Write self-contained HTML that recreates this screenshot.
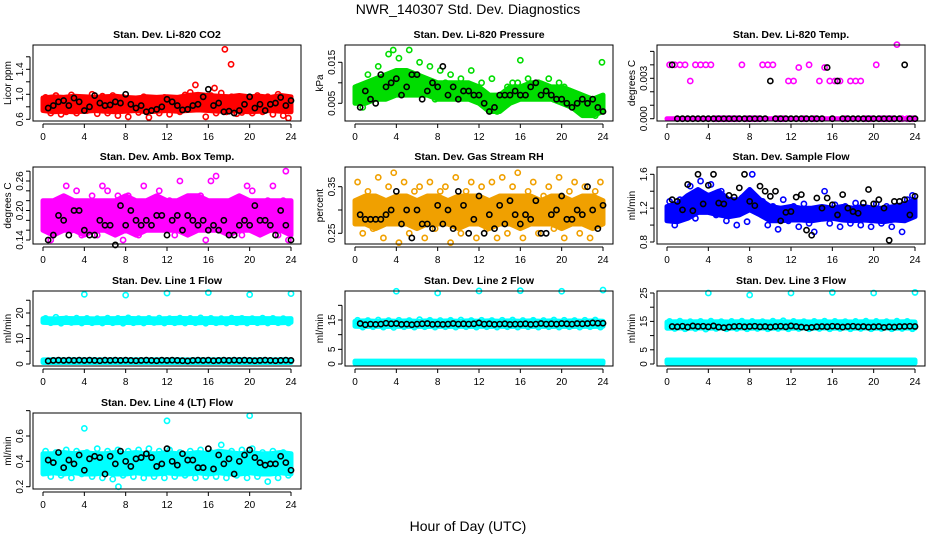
<!DOCTYPE html>
<html><head><meta charset="utf-8">
<style>
html,body{margin:0;padding:0;background:#fff;}
svg{display:block;font-family:"Liberation Sans",sans-serif;}
</style></head>
<body>
<svg id="chart" width="936" height="540" viewBox="0 0 936 540" xmlns="http://www.w3.org/2000/svg">
<rect width="936" height="540" fill="#fff"/>
<text x="468" y="14" text-anchor="middle" font-size="14">NWR_140307  Std. Dev. Diagnostics</text>
<text x="468" y="531" text-anchor="middle" font-size="14">Hour of Day (UTC)</text>
<g id="panels"></g>
</svg>
<script>
// shared hour categories
const bandHours=[0,1,2,3,4,5,6,7,8,9,10,11,12,13,14,15,16,17,18,19,20,21,22,23,24];
const hoursA=[0.25,0.75,1.25,1.75,2.25,2.75,3.25,3.75,4.25,4.75,5.25,5.75,6.25,6.75,7.25,7.75,8.25,8.75,9.25,9.75,10.25,10.75,11.25,11.75,12.25,12.75,13.25,13.75,14.25,14.75,15.25,15.75,16.25,16.75,17.25,17.75,18.25,18.75,19.25,19.75,20.25,20.75,21.25,21.75,22.25,22.75,23.25,23.75];
const hoursB=[0.5,1,1.5,2,2.5,3,3.5,4,4.5,5,5.5,6,6.5,7,7.5,8,8.5,9,9.5,10,10.5,11,11.5,12,12.5,13,13.5,14,14.5,15,15.5,16,16.5,17,17.5,18,18.5,19,19.5,20,20.5,21,21.5,22,22.5,23,23.5,24];
const xTicks=[0,4,8,12,16,20,24];

// P1 CO2
const p1Low=[0.74,0.72,0.73,0.72,0.73,0.74,0.73,0.72,0.73,0.74,0.72,0.73,0.74,0.73,0.74,0.75,0.74,0.73,0.74,0.73,0.72,0.73,0.74,0.73,0.72];
const p1High=[0.94,0.96,0.95,0.97,0.96,0.95,0.96,0.97,0.95,0.94,0.96,0.95,0.96,0.95,0.98,1.0,0.98,0.97,0.96,0.98,0.96,0.97,0.95,0.98,0.96];
const p1Pts=[0.95,0.70,0.98,0.68,0.72,0.99,0.70,0.93,
0.74,1.0,0.69,0.97,0.70,0.98,0.66,0.95,
0.64,0.92,0.71,0.96,0.63,0.90,0.70,0.95,
0.68,0.93,0.72,0.99,1.03,1.15,0.95,0.64,
0.98,0.70,1.02,0.72,0.96,0.69,0.71,0.94,
0.70,0.98,0.72,0.96,0.68,1.0,0.66,0.62];
const p1Blk=[0.78,0.82,0.88,0.90,0.82,0.94,0.88,0.74,
0.80,0.98,0.86,0.82,0.83,0.88,0.86,1.0,
0.84,0.78,0.82,0.72,0.74,0.76,0.80,0.92,
0.88,0.82,0.75,0.76,0.82,0.84,0.96,1.08,
0.82,0.86,0.72,0.73,0.70,0.74,0.84,0.96,
0.78,0.84,0.74,0.84,0.86,0.95,0.82,0.90];
const p1OutX=[17.6,18.2,16.6];
const p1OutY=[1.72,1.48,1.1];

// P2 Pressure
const p2Low=[0.005,0.005,0.006,0.006,0.007,0.007,0.007,0.007,0.006,0.006,0.006,0.006,0.005,0.003,0.003,0.005,0.006,0.006,0.006,0.006,0.005,0.004,0.002,0.002,0.003];
const p2High=[0.009,0.010,0.011,0.012,0.013,0.013,0.012,0.011,0.010,0.010,0.010,0.010,0.009,0.007,0.007,0.009,0.009,0.010,0.010,0.009,0.009,0.008,0.007,0.006,0.007];
const p2Pts=[0.009,0.004,0.012,0.007,0.014,0.010,0.017,0.009,
0.016,0.012,0.018,0.011,0.015,0.008,0.014,0.006,
0.013,0.010,0.012,0.007,0.011,0.009,0.013,0.006,
0.010,0.005,0.011,0.003,0.004,0.009,0.010,0.010,
0.009,0.011,0.007,0.010,0.008,0.011,0.006,0.010,
0.009,0.008,0.004,0.007,0.003,0.006,0.002,0.005];
const p2Blk=[0.004,0.008,0.006,0.005,0.012,0.009,0.010,0.011,
0.007,0.009,0.012,0.012,0.006,0.008,0.010,0.009,
0.014,0.007,0.009,0.006,0.008,0.008,0.007,0.007,
0.005,0.003,0.004,0.007,0.007,0.007,0.008,0.007,
0.007,0.009,0.010,0.007,0.008,0.007,0.006,0.006,
0.005,0.004,0.005,0.006,0.005,0.006,0.004,0.003];
const p2OutX=[16,23.9,3.7];
const p2OutY=[0.0155,0.0150,0.018];

// P3 Li-820 Temp
const p3Low=[0,0,0,0,0,0,0,0,0,0,0,0,0,0,0,0,0,0,0,0,0,0,0,0,0];
const p3High=[0,0,0,0,0,0,0,0,0,0,0,0,0,0,0,0,0,0,0,0,0,0,0,0,0];
const p3Pts=[0.004,0.004,0.004,0.004,0.0028,0.004,0.004,0.004,
0.004,0,0,0,0,0,0.004,0,
0,0,0.004,0.004,0.004,0,0,0.0028,
0.0028,0.0038,0,0.004,0,0.0028,0.0038,0.0028,
0.0028,0.0028,0,0.0028,0.0028,0.0028,0,0,
0.004,0,0,0,0.0055,0,0,0];
const p3Blk=[0.004,0,0,0,0,0,0,0,
0,0,0,0,0,0,0,0,
0,0,0,0.0028,0,0,0,0,
0,0,0,0,0,0,0.0038,0,
0.0028,0,0,0,0,0,0,0,
0,0,0,0,0,0.004,0,0];
const p3OutX=[];
const p3OutY=[];

// P4 Amb box temp
const p4Low=[0.16,0.15,0.16,0.16,0.15,0.16,0.16,0.15,0.16,0.15,0.16,0.16,0.16,0.16,0.15,0.16,0.16,0.16,0.15,0.16,0.16,0.15,0.16,0.16,0.15];
const p4High=[0.22,0.22,0.23,0.22,0.22,0.22,0.22,0.22,0.23,0.22,0.22,0.23,0.22,0.22,0.23,0.23,0.22,0.22,0.22,0.23,0.22,0.22,0.22,0.22,0.22];
const p4Pts=[0.17,0.14,0.21,0.18,0.25,0.16,0.24,0.15,
0.21,0.23,0.15,0.25,0.24,0.17,0.23,0.14,
0.23,0.22,0.15,0.25,0.17,0.21,0.24,0.17,
0.22,0.15,0.26,0.16,0.21,0.18,0.23,0.14,
0.26,0.27,0.16,0.21,0.18,0.22,0.15,0.25,
0.24,0.16,0.20,0.22,0.25,0.15,0.22,0.14];
const p4Blk=[0.14,0.15,0.19,0.18,0.15,0.20,0.20,0.16,
0.15,0.15,0.18,0.17,0.17,0.13,0.21,0.17,
0.20,0.18,0.17,0.18,0.17,0.19,0.19,0.15,
0.18,0.19,0.16,0.19,0.18,0.17,0.18,0.16,
0.17,0.16,0.18,0.15,0.15,0.17,0.18,0.17,
0.21,0.18,0.18,0.17,0.15,0.20,0.17,0.14];
const p4OutX=[23.5];
const p4OutY=[0.28];

// P5 Gas stream RH
const p5Low=[0.27,0.27,0.26,0.27,0.27,0.27,0.26,0.27,0.27,0.27,0.26,0.27,0.27,0.26,0.27,0.27,0.26,0.27,0.27,0.27,0.26,0.27,0.27,0.26,0.27];
const p5High=[0.32,0.33,0.33,0.32,0.33,0.33,0.32,0.33,0.33,0.32,0.33,0.33,0.33,0.32,0.33,0.33,0.33,0.33,0.32,0.33,0.33,0.32,0.33,0.33,0.32];
const p5Pts=[0.36,0.25,0.34,0.26,0.37,0.24,0.35,0.38,
0.23,0.36,0.25,0.34,0.35,0.24,0.36,0.26,
0.34,0.35,0.23,0.37,0.25,0.34,0.36,0.24,
0.35,0.26,0.36,0.24,0.37,0.25,0.35,0.38,
0.24,0.34,0.36,0.25,0.33,0.35,0.26,0.37,
0.24,0.34,0.36,0.25,0.35,0.24,0.34,0.36];
const p5Blk=[0.29,0.28,0.28,0.28,0.28,0.29,0.30,0.34,
0.27,0.30,0.24,0.30,0.27,0.27,0.26,0.31,
0.27,0.30,0.26,0.34,0.31,0.25,0.28,0.33,
0.25,0.29,0.26,0.31,0.27,0.32,0.29,0.27,
0.29,0.28,0.32,0.25,0.25,0.29,0.30,0.33,
0.28,0.28,0.30,0.29,0.35,0.30,0.26,0.31];
const p5OutX=[];
const p5OutY=[];

// P6 Sample flow
const p6Low=[1.05,1.04,1.08,1.15,1.15,1.12,1.10,1.12,1.18,1.12,1.05,1.05,1.06,1.06,1.05,1.07,1.08,1.06,1.05,1.06,1.05,1.04,1.06,1.05,1.10];
const p6High=[1.22,1.25,1.35,1.42,1.35,1.40,1.30,1.30,1.42,1.30,1.22,1.20,1.22,1.20,1.20,1.22,1.20,1.22,1.20,1.22,1.20,1.20,1.22,1.25,1.30];
const p6Pts=[1.28,1.00,1.30,1.12,1.46,1.08,1.52,1.18,
1.48,1.12,1.40,1.05,1.26,1.00,1.32,1.04,
1.60,1.15,1.28,1.00,1.22,0.95,1.30,1.05,
1.22,0.98,1.25,1.02,0.92,1.18,1.40,1.02,
1.24,0.98,1.22,1.02,1.26,1.00,1.20,0.98,
1.25,1.02,1.22,0.98,1.22,0.92,1.30,1.35];
const p6Blk=[1.30,1.28,1.18,1.48,1.17,1.60,1.25,1.47,
1.60,1.26,1.25,1.35,1.33,1.44,1.60,1.28,
1.23,1.46,1.40,1.34,1.40,1.05,1.15,1.16,
1.33,1.36,0.94,0.88,1.32,1.20,1.32,1.24,
1.12,1.36,1.20,1.16,1.14,1.26,1.42,1.25,
1.30,1.20,0.82,1.28,1.28,1.30,1.12,1.34];
const p6OutX=[];
const p6OutY=[];

// P7 Line 1 flow (two bands)
const p7Low=[16.3,16.2,16.3,16.2,16.3,16.2,16.3,16.2,16.3,16.2,16.3,16.2,16.3,16.2,16.3,16.2,16.3,16.2,16.3,16.2,16.3,16.2,16.3,16.2,16.3];
const p7High=[17.8,17.7,17.9,17.8,17.8,17.7,17.8,17.8,17.9,17.8,17.8,17.7,17.8,17.9,17.8,17.8,17.8,17.7,17.8,17.9,17.8,17.8,17.8,17.7,17.8];
const p7Low2=[0.6,0.6,0.6,0.6,0.6,0.6,0.6,0.6,0.6,0.6,0.6,0.6,0.6,0.6,0.6,0.6,0.6,0.6,0.6,0.6,0.6,0.6,0.6,0.6,0.6];
const p7High2=[1.6,1.7,1.6,1.7,1.6,1.7,1.6,1.7,1.6,1.7,1.6,1.7,1.6,1.7,1.6,1.7,1.6,1.7,1.6,1.7,1.6,1.7,1.6,1.7,1.6];
const p7Pts=[17.9,16.2,18.3,16.0,17.8,16.3,18.0,16.1,
17.9,16.2,17.8,16.1,18.0,16.2,17.9,16.0,
18.1,16.2,17.8,16.1,17.9,16.3,18.0,16.1,
17.8,16.2,18.0,16.1,17.9,16.2,18.1,16.0,
17.9,16.2,17.8,16.1,18.0,16.2,17.9,16.1,
17.8,16.2,18.0,16.1,17.9,16.2,17.8,16.1];
const p7Blk=[1.2,1.4,1.5,1.4,1.5,1.4,1.5,1.4,
1.5,1.4,1.3,1.5,1.4,1.5,1.4,1.5,
1.4,1.3,1.4,1.5,1.4,1.3,1.5,1.4,
1.5,1.4,1.3,1.2,1.4,1.5,1.4,1.5,
1.3,1.4,1.5,1.4,1.5,1.4,1.5,1.4,
1.3,1.4,1.5,1.4,1.3,1.4,1.5,1.4];
const p7OutX=[4,8,12,16,20,24];
const p7OutY=[27.3,27,27.8,28,27.2,27.6];

// P8 Line 2 flow
const p8Low=[12.9,12.8,12.9,12.8,12.9,12.8,12.9,12.8,12.9,12.8,12.9,12.8,12.9,12.8,12.9,12.8,12.9,12.8,12.9,12.8,12.9,12.8,12.9,12.8,12.9];
const p8High=[14.6,14.7,14.6,14.7,14.6,14.7,14.6,14.7,14.6,14.7,14.6,14.7,14.6,14.7,14.6,14.7,14.6,14.7,14.6,14.7,14.6,14.7,14.6,14.7,14.6];
const p8Low2=[0.2,0.2,0.2,0.2,0.2,0.2,0.2,0.2,0.2,0.2,0.2,0.2,0.2,0.2,0.2,0.2,0.2,0.2,0.2,0.2,0.2,0.2,0.2,0.2,0.2];
const p8High2=[1.0,1.0,1.0,1.0,1.0,1.0,1.0,1.0,1.0,1.0,1.0,1.0,1.0,1.0,1.0,1.0,1.0,1.0,1.0,1.0,1.0,1.0,1.0,1.0,1.0];
const p8Pts=[14.9,12.6,14.8,12.7,15.0,12.6,14.8,12.5,
14.9,12.7,14.8,12.6,15.1,12.7,14.9,12.6,
14.8,12.7,14.9,12.6,15.0,12.7,14.8,12.6,
14.9,12.7,14.8,12.6,14.9,12.7,15.0,12.6,
14.8,12.7,14.9,12.6,14.8,12.7,15.0,12.6,
14.9,12.7,14.8,12.6,14.9,12.7,15.0,12.6];
const p8Blk=[13.8,13.4,13.6,13.5,13.6,13.9,13.7,13.8,
13.5,13.6,13.4,13.6,13.7,13.8,13.5,13.6,
13.5,13.6,13.8,13.6,13.7,13.6,13.7,14.0,
13.6,13.7,13.5,13.6,13.7,13.5,13.6,13.6,
13.7,13.5,13.6,13.8,13.6,13.7,13.6,13.8,
13.7,13.6,13.8,13.7,13.8,14.0,13.9,13.9];
const p8OutX=[4,8,12,16,20,24];
const p8OutY=[24.8,24.2,24.9,25.0,24.8,25.2];

// P9 Line 3 flow
const p9Low=[12.6,12.7,12.6,12.7,12.6,12.7,12.6,12.7,12.6,12.7,12.6,12.7,12.6,12.7,12.6,12.7,12.6,12.7,12.6,12.7,12.6,12.7,12.6,12.7,12.6];
const p9High=[14.8,14.9,14.8,14.9,14.8,14.9,14.8,14.9,14.8,14.9,14.8,14.9,14.8,14.9,14.8,14.9,14.8,14.9,14.8,14.9,14.8,14.9,14.8,14.9,14.8];
const p9Low2=[0.3,0.3,0.3,0.3,0.3,0.3,0.3,0.3,0.3,0.3,0.3,0.3,0.3,0.3,0.3,0.3,0.3,0.3,0.3,0.3,0.3,0.3,0.3,0.3,0.3];
const p9High2=[1.4,1.4,1.4,1.4,1.4,1.4,1.4,1.4,1.4,1.4,1.4,1.4,1.4,1.4,1.4,1.4,1.4,1.4,1.4,1.4,1.4,1.4,1.4,1.4,1.4];
const p9Pts=[15.0,12.5,15.1,12.4,14.9,12.5,15.0,12.3,
15.1,12.5,14.9,12.4,15.0,12.5,15.1,12.4,
15.0,12.5,14.9,12.4,15.1,12.5,15.2,12.4,
15.0,12.5,14.9,12.4,15.0,12.5,15.1,12.4,
15.0,12.5,14.9,12.4,15.0,12.5,15.1,12.4,
15.0,12.5,14.9,12.4,15.1,12.5,15.0,12.4];
const p9Blk=[13.2,13.1,13.3,13.0,13.4,13.2,13.3,13.1,
13.4,13.0,12.8,13.0,13.2,13.3,13.1,13.2,
13.3,13.1,13.2,13.0,13.2,13.3,13.1,13.4,
13.2,13.0,12.8,12.9,13.1,13.2,13.1,13.3,
13.2,13.0,13.2,13.3,13.1,13.2,13.0,13.1,
13.2,12.9,13.1,13.0,13.2,13.2,13.3,13.2];
const p9OutX=[4,8,12,16,20,24];
const p9OutY=[25,24.3,25,25.2,25,25.2];

// P10 Line 4 (LT) flow
const p10Low=[0.30,0.31,0.30,0.31,0.30,0.30,0.31,0.30,0.30,0.31,0.30,0.30,0.31,0.30,0.30,0.31,0.30,0.31,0.30,0.30,0.31,0.30,0.30,0.31,0.30];
const p10High=[0.46,0.46,0.47,0.46,0.47,0.46,0.46,0.47,0.46,0.47,0.46,0.46,0.47,0.46,0.46,0.47,0.46,0.48,0.47,0.46,0.47,0.46,0.46,0.47,0.46];
const p10Pts=[0.48,0.28,0.47,0.29,0.49,0.27,0.48,0.30,
0.47,0.28,0.50,0.27,0.48,0.26,0.49,0.29,
0.48,0.28,0.49,0.27,0.50,0.28,0.48,0.27,
0.49,0.28,0.47,0.29,0.48,0.27,0.49,0.28,
0.47,0.28,0.53,0.27,0.48,0.29,0.49,0.27,
0.50,0.28,0.47,0.24,0.48,0.27,0.47,0.29];
const p10Blk=[0.41,0.39,0.47,0.35,0.41,0.38,0.45,0.33,
0.42,0.44,0.43,0.30,0.44,0.38,0.48,0.40,
0.36,0.42,0.43,0.46,0.43,0.36,0.38,0.50,
0.40,0.37,0.46,0.41,0.41,0.35,0.35,0.50,
0.34,0.45,0.38,0.42,0.30,0.40,0.45,0.49,
0.43,0.39,0.37,0.38,0.38,0.44,0.39,0.33];
const p10OutX=[4,12,20,7.3];
const p10OutY=[0.66,0.72,0.76,0.2];

// layout (geometry only)
const colLeft=[33,345,657];
const rowTop=[45,167,291,413];
const rowBottom=[121,244,366,489];
const BOXW=268;

const panels=[
 {id:'co2',col:0,row:0,title:'Stan. Dev. Li-820 CO2',ylab:'Licor ppm',color:'#ff0000',v1:1.0,p1:94.3,v2:1.4,p2:69.3,ticks:[0.6,0.8,1.0,1.2,1.4,1.6],labels:['0.6','1.0','1.4'],lo:p1Low,hi:p1High,pts:p1Pts,blk:p1Blk,ox:p1OutX,oy:p1OutY},
 {id:'pressure',col:1,row:0,title:'Stan. Dev. Li-820 Pressure',ylab:'kPa',color:'#00dd00',v1:0.005,p1:103.3,v2:0.015,p2:62.3,ticks:[0.005,0.010,0.015],labels:['0.005','0.015'],lo:p2Low,hi:p2High,pts:p2Pts,blk:p2Blk,ox:p2OutX,oy:p2OutY},
 {id:'temp',col:2,row:0,title:'Stan. Dev. Li-820 Temp.',ylab:'degrees C',color:'#ff00ff',v1:0,p1:118.7,v2:0.003,p2:78.3,ticks:[0,0.001,0.002,0.003,0.004,0.005],labels:['0.000','0.003'],lo:p3Low,hi:p3High,pts:p3Pts,blk:p3Blk,ox:p3OutX,oy:p3OutY},
 {id:'amb-temp',col:0,row:1,title:'Stan. Dev. Amb. Box Temp.',ylab:'degrees C',color:'#ff00ff',v1:0.14,p1:240,v2:0.26,p2:181,ticks:[0.14,0.16,0.18,0.20,0.22,0.24,0.26,0.28],labels:['0.14','0.20','0.26'],lo:p4Low,hi:p4High,pts:p4Pts,blk:p4Blk,ox:p4OutX,oy:p4OutY},
 {id:'rh',col:1,row:1,title:'Stan. Dev. Gas Stream RH',ylab:'percent',color:'#f0a000',v1:0.25,p1:233.3,v2:0.35,p2:186.7,ticks:[0.25,0.30,0.35],labels:['0.25','0.35'],lo:p5Low,hi:p5High,pts:p5Pts,blk:p5Blk,ox:p5OutX,oy:p5OutY},
 {id:'sample-flow',col:2,row:1,title:'Stan. Dev. Sample Flow',ylab:'ml/min',color:'#0000ff',v1:0.8,p1:242,v2:1.6,p2:174.3,ticks:[0.8,1.0,1.2,1.4,1.6],labels:['0.8','1.2','1.6'],lo:p6Low,hi:p6High,pts:p6Pts,blk:p6Blk,ox:p6OutX,oy:p6OutY},
 {id:'line1',col:0,row:2,title:'Stan. Dev. Line 1 Flow',ylab:'ml/min',color:'#00ffff',v1:0,p1:364,v2:20,p2:313,ticks:[0,5,10,15,20,25],labels:['0','10','20'],lo:p7Low,hi:p7High,lo2:p7Low2,hi2:p7High2,pts:p7Pts,blk:p7Blk,ox:p7OutX,oy:p7OutY},
 {id:'line2',col:1,row:2,title:'Stan. Dev. Line 2 Flow',ylab:'ml/min',color:'#00ffff',v1:0,p1:364,v2:15,p2:320,ticks:[0,5,10,15,20],labels:['0','5','15'],lo:p8Low,hi:p8High,lo2:p8Low2,hi2:p8High2,pts:p8Pts,blk:p8Blk,ox:p8OutX,oy:p8OutY},
 {id:'line3',col:2,row:2,title:'Stan. Dev. Line 3 Flow',ylab:'ml/min',color:'#00ffff',v1:0,p1:364,v2:25,p2:293,ticks:[0,5,10,15,20,25],labels:['0','5','15','25'],lo:p9Low,hi:p9High,lo2:p9Low2,hi2:p9High2,pts:p9Pts,blk:p9Blk,ox:p9OutX,oy:p9OutY},
 {id:'line4',col:0,row:3,title:'Stan. Dev. Line 4 (LT) Flow',ylab:'ml/min',color:'#00ffff',v1:0.2,p1:486.7,v2:0.6,p2:436,ticks:[0.2,0.4,0.6,0.8],labels:['0.2','0.4','0.6'],lo:p10Low,hi:p10High,pts:p10Pts,blk:p10Blk,ox:p10OutX,oy:p10OutY}
];

const NS='http://www.w3.org/2000/svg';
const root=document.getElementById('panels');
function mk(tag,attrs,parent){const e=document.createElementNS(NS,tag);for(const k in attrs)e.setAttribute(k,attrs[k]);parent.appendChild(e);return e;}

panels.forEach(p=>{
  const L=colLeft[p.col],T=rowTop[p.row],B=rowBottom[p.row],R=L+BOXW;
  const xs=h=>L+10+h*(248/24);
  const ys=v=>p.p1+(v-p.v1)*(p.p2-p.p1)/(p.v2-p.v1);
  const g=mk('g',{},root);
  
  
  const t=mk('text',{x:L+BOXW/2,y:T-7,'text-anchor':'middle','font-size':'10.5','font-weight':'bold'},g);
  t.textContent=p.title;
  
  
  // bands
  const bands=[[p.lo,p.hi]];
  if(p.lo2)bands.push([p.lo2,p.hi2]);
  bands.forEach(([lo,hi])=>{
    let d='';
    bandHours.forEach((h,i)=>{d+=(i?'L':'M')+xs(h).toFixed(1)+','+ys(hi[i]).toFixed(1);});
    for(let i=bandHours.length-1;i>=0;i--)d+='L'+xs(bandHours[i]).toFixed(1)+','+ys(lo[i]).toFixed(1);
    const b=mk('path',{d:d+'Z',fill:p.color,stroke:p.color,'stroke-width':5,'stroke-linejoin':'round'},g);
    
    
  });
  p.pts.forEach((v,i)=>{
    const c=mk('circle',{cx:xs(hoursA[i]),cy:ys(v),r:2.6,fill:'none',stroke:p.color,'stroke-width':1.6},g);
    
    
  });
  p.ox.forEach((h,i)=>{
    const c=mk('circle',{cx:xs(h),cy:ys(p.oy[i]),r:2.6,fill:'none',stroke:p.color,'stroke-width':1.6},g);
    
    
  });
  p.blk.forEach((v,i)=>{
    const c=mk('circle',{cx:xs(hoursB[i]),cy:ys(v),r:2.6,fill:'none',stroke:'#000','stroke-width':1.6},g);
    
    
  });
  const box=mk('rect',{x:L,y:T,width:BOXW,height:B-T,fill:'none',stroke:'#000','stroke-width':1},g);
  
  
  // x axis
  const xl=mk('line',{x1:xs(0),x2:xs(24),y1:B+3,y2:B+3,stroke:'#000'},g);
  
  
  xTicks.forEach(h=>{
    mk('line',{x1:xs(h),x2:xs(h),y1:B+3,y2:B+7,stroke:'#000'},g);
    const tl=mk('text',{x:xs(h),y:B+19,'text-anchor':'middle','font-size':'10'},g);
    tl.textContent=h;
    
    
  });
  // y axis
  const yl=mk('line',{x1:L-3,x2:L-3,y1:ys(p.ticks[0]),y2:ys(p.ticks[p.ticks.length-1]),stroke:'#000'},g);
  
  
  p.ticks.forEach(v=>{mk('line',{x1:L-7,x2:L-3,y1:ys(v),y2:ys(v),stroke:'#000'},g);});
  p.labels.forEach(s=>{
    const y=ys(parseFloat(s));
    const tl=mk('text',{x:L-10,y:y,'text-anchor':'middle','font-size':'10',transform:'rotate(-90 '+(L-10)+' '+y+')'},g);
    tl.textContent=s;
    
    
  });
  const yc=(T+B)/2;
  const yt=mk('text',{x:L-22,y:yc,'text-anchor':'middle','font-size':'10',transform:'rotate(-90 '+(L-22)+' '+yc+')'},g);
  yt.textContent=p.ylab;
  
  
});
</script>
</body></html>
